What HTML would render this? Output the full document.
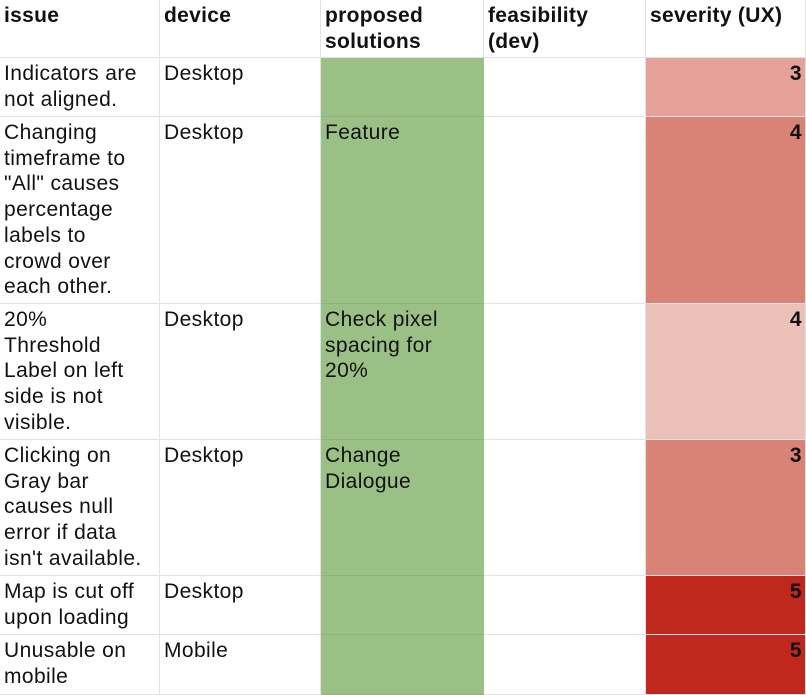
<!DOCTYPE html>
<html><head><meta charset="utf-8"><style>
body{margin:0;width:806px;height:690px;overflow:hidden;background:#fff;font-family:"Liberation Sans",sans-serif;}
.c{position:absolute;box-sizing:border-box;border-right:1px solid #e2e2e2;border-bottom:1px solid #e2e2e2;padding:3px 4px 0 4px;font-size:21px;letter-spacing:0.4px;line-height:25.7px;color:#111;white-space:nowrap;overflow:hidden;}
.h{font-weight:bold;letter-spacing:0.3px;}
.n{text-align:right;font-weight:bold;padding-right:3px;}
.g{background:#9bc085;border-bottom-color:#8fb279;border-right-color:#9bc085;}
</style></head><body>
<div class="c h" style="left:0;top:0;width:160px;height:58px">issue</div>
<div class="c h" style="left:160px;top:0;width:161px;height:58px">device</div>
<div class="c h" style="left:321px;top:0;width:163px;height:58px">proposed<br>solutions</div>
<div class="c h" style="left:484px;top:0;width:162px;height:58px">feasibility<br>(dev)</div>
<div class="c h" style="left:646px;top:0;width:160px;height:58px">severity (UX)</div>

<div class="c" style="left:0;top:58px;width:160px;height:59px">Indicators are<br>not aligned.</div>
<div class="c" style="left:160px;top:58px;width:161px;height:59px">Desktop</div>
<div class="c g" style="left:321px;top:58px;width:163px;height:59px"></div>
<div class="c" style="left:484px;top:58px;width:162px;height:59px"></div>
<div class="c n" style="left:646px;top:58px;width:160px;height:59px;background:#e5a197">3</div>

<div class="c" style="left:0;top:117px;width:160px;height:187px">Changing<br>timeframe to<br>"All" causes<br>percentage<br>labels to<br>crowd over<br>each other.</div>
<div class="c" style="left:160px;top:117px;width:161px;height:187px">Desktop</div>
<div class="c g" style="left:321px;top:117px;width:163px;height:187px">Feature</div>
<div class="c" style="left:484px;top:117px;width:162px;height:187px"></div>
<div class="c n" style="left:646px;top:117px;width:160px;height:187px;background:#d98276">4</div>

<div class="c" style="left:0;top:304px;width:160px;height:136px">20%<br>Threshold<br>Label on left<br>side is not<br>visible.</div>
<div class="c" style="left:160px;top:304px;width:161px;height:136px">Desktop</div>
<div class="c g" style="left:321px;top:304px;width:163px;height:136px">Check pixel<br>spacing for<br>20%</div>
<div class="c" style="left:484px;top:304px;width:162px;height:136px"></div>
<div class="c n" style="left:646px;top:304px;width:160px;height:136px;background:#ebc0b9">4</div>

<div class="c" style="left:0;top:440px;width:160px;height:136px">Clicking on<br>Gray bar<br>causes null<br>error if data<br>isn't available.</div>
<div class="c" style="left:160px;top:440px;width:161px;height:136px">Desktop</div>
<div class="c g" style="left:321px;top:440px;width:163px;height:136px">Change<br>Dialogue</div>
<div class="c" style="left:484px;top:440px;width:162px;height:136px"></div>
<div class="c n" style="left:646px;top:440px;width:160px;height:136px;background:#d98276">3</div>

<div class="c" style="left:0;top:576px;width:160px;height:59px">Map is cut off<br>upon loading</div>
<div class="c" style="left:160px;top:576px;width:161px;height:59px">Desktop</div>
<div class="c g" style="left:321px;top:576px;width:163px;height:59px"></div>
<div class="c" style="left:484px;top:576px;width:162px;height:59px"></div>
<div class="c n" style="left:646px;top:576px;width:160px;height:59px;background:#c0281d">5</div>

<div class="c" style="left:0;top:635px;width:160px;height:60px">Unusable on<br>mobile</div>
<div class="c" style="left:160px;top:635px;width:161px;height:60px">Mobile</div>
<div class="c g" style="left:321px;top:635px;width:163px;height:60px"></div>
<div class="c" style="left:484px;top:635px;width:162px;height:60px"></div>
<div class="c n" style="left:646px;top:635px;width:160px;height:60px;background:#c0281d">5</div>
</body></html>
